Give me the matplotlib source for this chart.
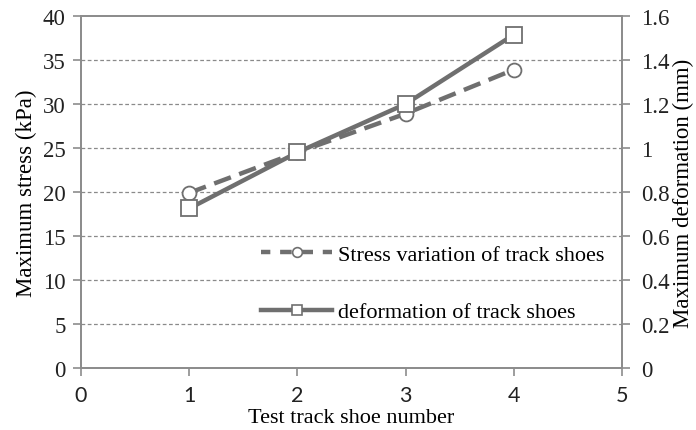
import matplotlib
matplotlib.use('AGG')
import matplotlib.pyplot as plt
from matplotlib.lines import Line2D

# data
shoe_number = [1, 2, 3, 4]
max_stress = [19.9, 24.5, 28.9, 33.9]          # kPa, left axis
max_deformation = [0.725, 0.98, 1.2, 1.515]    # mm, right axis

stress_ticks = [0, 5, 10, 15, 20, 25, 30, 35, 40]
deform_ticks = [0, 0.2, 0.4, 0.6, 0.8, 1.0, 1.2, 1.4, 1.6]
deform_labels = ['0', '0.2', '0.4', '0.6', '0.8', '1', '1.2', '1.4', '1.6']
x_ticks = [0, 1, 2, 3, 4, 5]
legend_labels = ['Stress variation of track shoes', 'deformation of track shoes']

LINE_COLOR = '#6f6f6f'
AXIS_COLOR = '#8c8c8c'
SERIF = 'Liberation Serif'
SANS = 'Lato'

fig = plt.figure(figsize=(6.96, 4.31), dpi=100)
ax = fig.add_axes([0.1164, 0.1439, 0.7773, 0.8167])
ax2 = ax.twinx()

ax.set_xlim(0, 5)
ax.set_ylim(0, 40)
ax2.set_ylim(0, 1.6)

# grid
for v in stress_ticks[1:-1]:
    ax.axhline(v, color='#8a8a8a', lw=0.9, ls=(0, (3, 2)), zorder=0)

ax.plot(shoe_number, max_stress, color=LINE_COLOR, lw=3.2, ls=(0, (4, 2)),
        marker='o', ms=10, mfc='white', mec=LINE_COLOR, mew=1.3, zorder=3)
ax2.plot(shoe_number, max_deformation, color=LINE_COLOR, lw=3.2, ls='-',
         marker='s', ms=11, mfc='white', mec=LINE_COLOR, mew=1.3, zorder=3)

for a in (ax, ax2):
    for s in a.spines.values():
        s.set_color(AXIS_COLOR)
        s.set_linewidth(1.3)
    a.tick_params(colors='#222222', length=6, width=1.2, color=AXIS_COLOR, direction='out')

ax.set_xticks(x_ticks)
ax.set_xticklabels([str(t) for t in x_ticks], family=SANS, fontsize=15.5)
ax.set_yticks(stress_ticks)
ax.set_yticklabels([str(t) for t in stress_ticks], family=SERIF, fontsize=16.5)
ax2.set_yticks(deform_ticks)
ax2.set_yticklabels(deform_labels, family=SERIF, fontsize=16.5)
ax.tick_params(axis='x', pad=6)
ax.tick_params(axis='y', pad=5)
ax2.tick_params(axis='y', pad=8)

ax.set_xlabel('Test track shoe number', family=SERIF, fontsize=16, va='center')
ax.xaxis.set_label_coords(0.5, -0.142)
ax.set_ylabel('Maximum stress (kPa)', family=SERIF, fontsize=16.5, labelpad=4)
ax2.set_ylabel('Maximum deformation (mm)', family=SERIF, fontsize=16.5, labelpad=2)

handles = [
    Line2D([], [], color=LINE_COLOR, lw=3.2, ls=(0.5, (2.6, 2.2)), marker='o', ms=7,
           mfc='white', mec=LINE_COLOR, mew=1.2),
    Line2D([], [], color=LINE_COLOR, lw=3.2, ls='-', marker='s', ms=7,
           mfc='white', mec=LINE_COLOR, mew=1.2),
]
leg = ax2.legend(handles, legend_labels,
                 loc='upper left', bbox_to_anchor=(0.3750, 0.4300), bbox_transform=fig.transFigure,
                 frameon=False, prop={'family': SERIF, 'size': 16}, borderpad=0, borderaxespad=0,
                 handlelength=3.2, handletextpad=0.25, labelspacing=1.65)

fig.savefig('out.png', dpi=100)
